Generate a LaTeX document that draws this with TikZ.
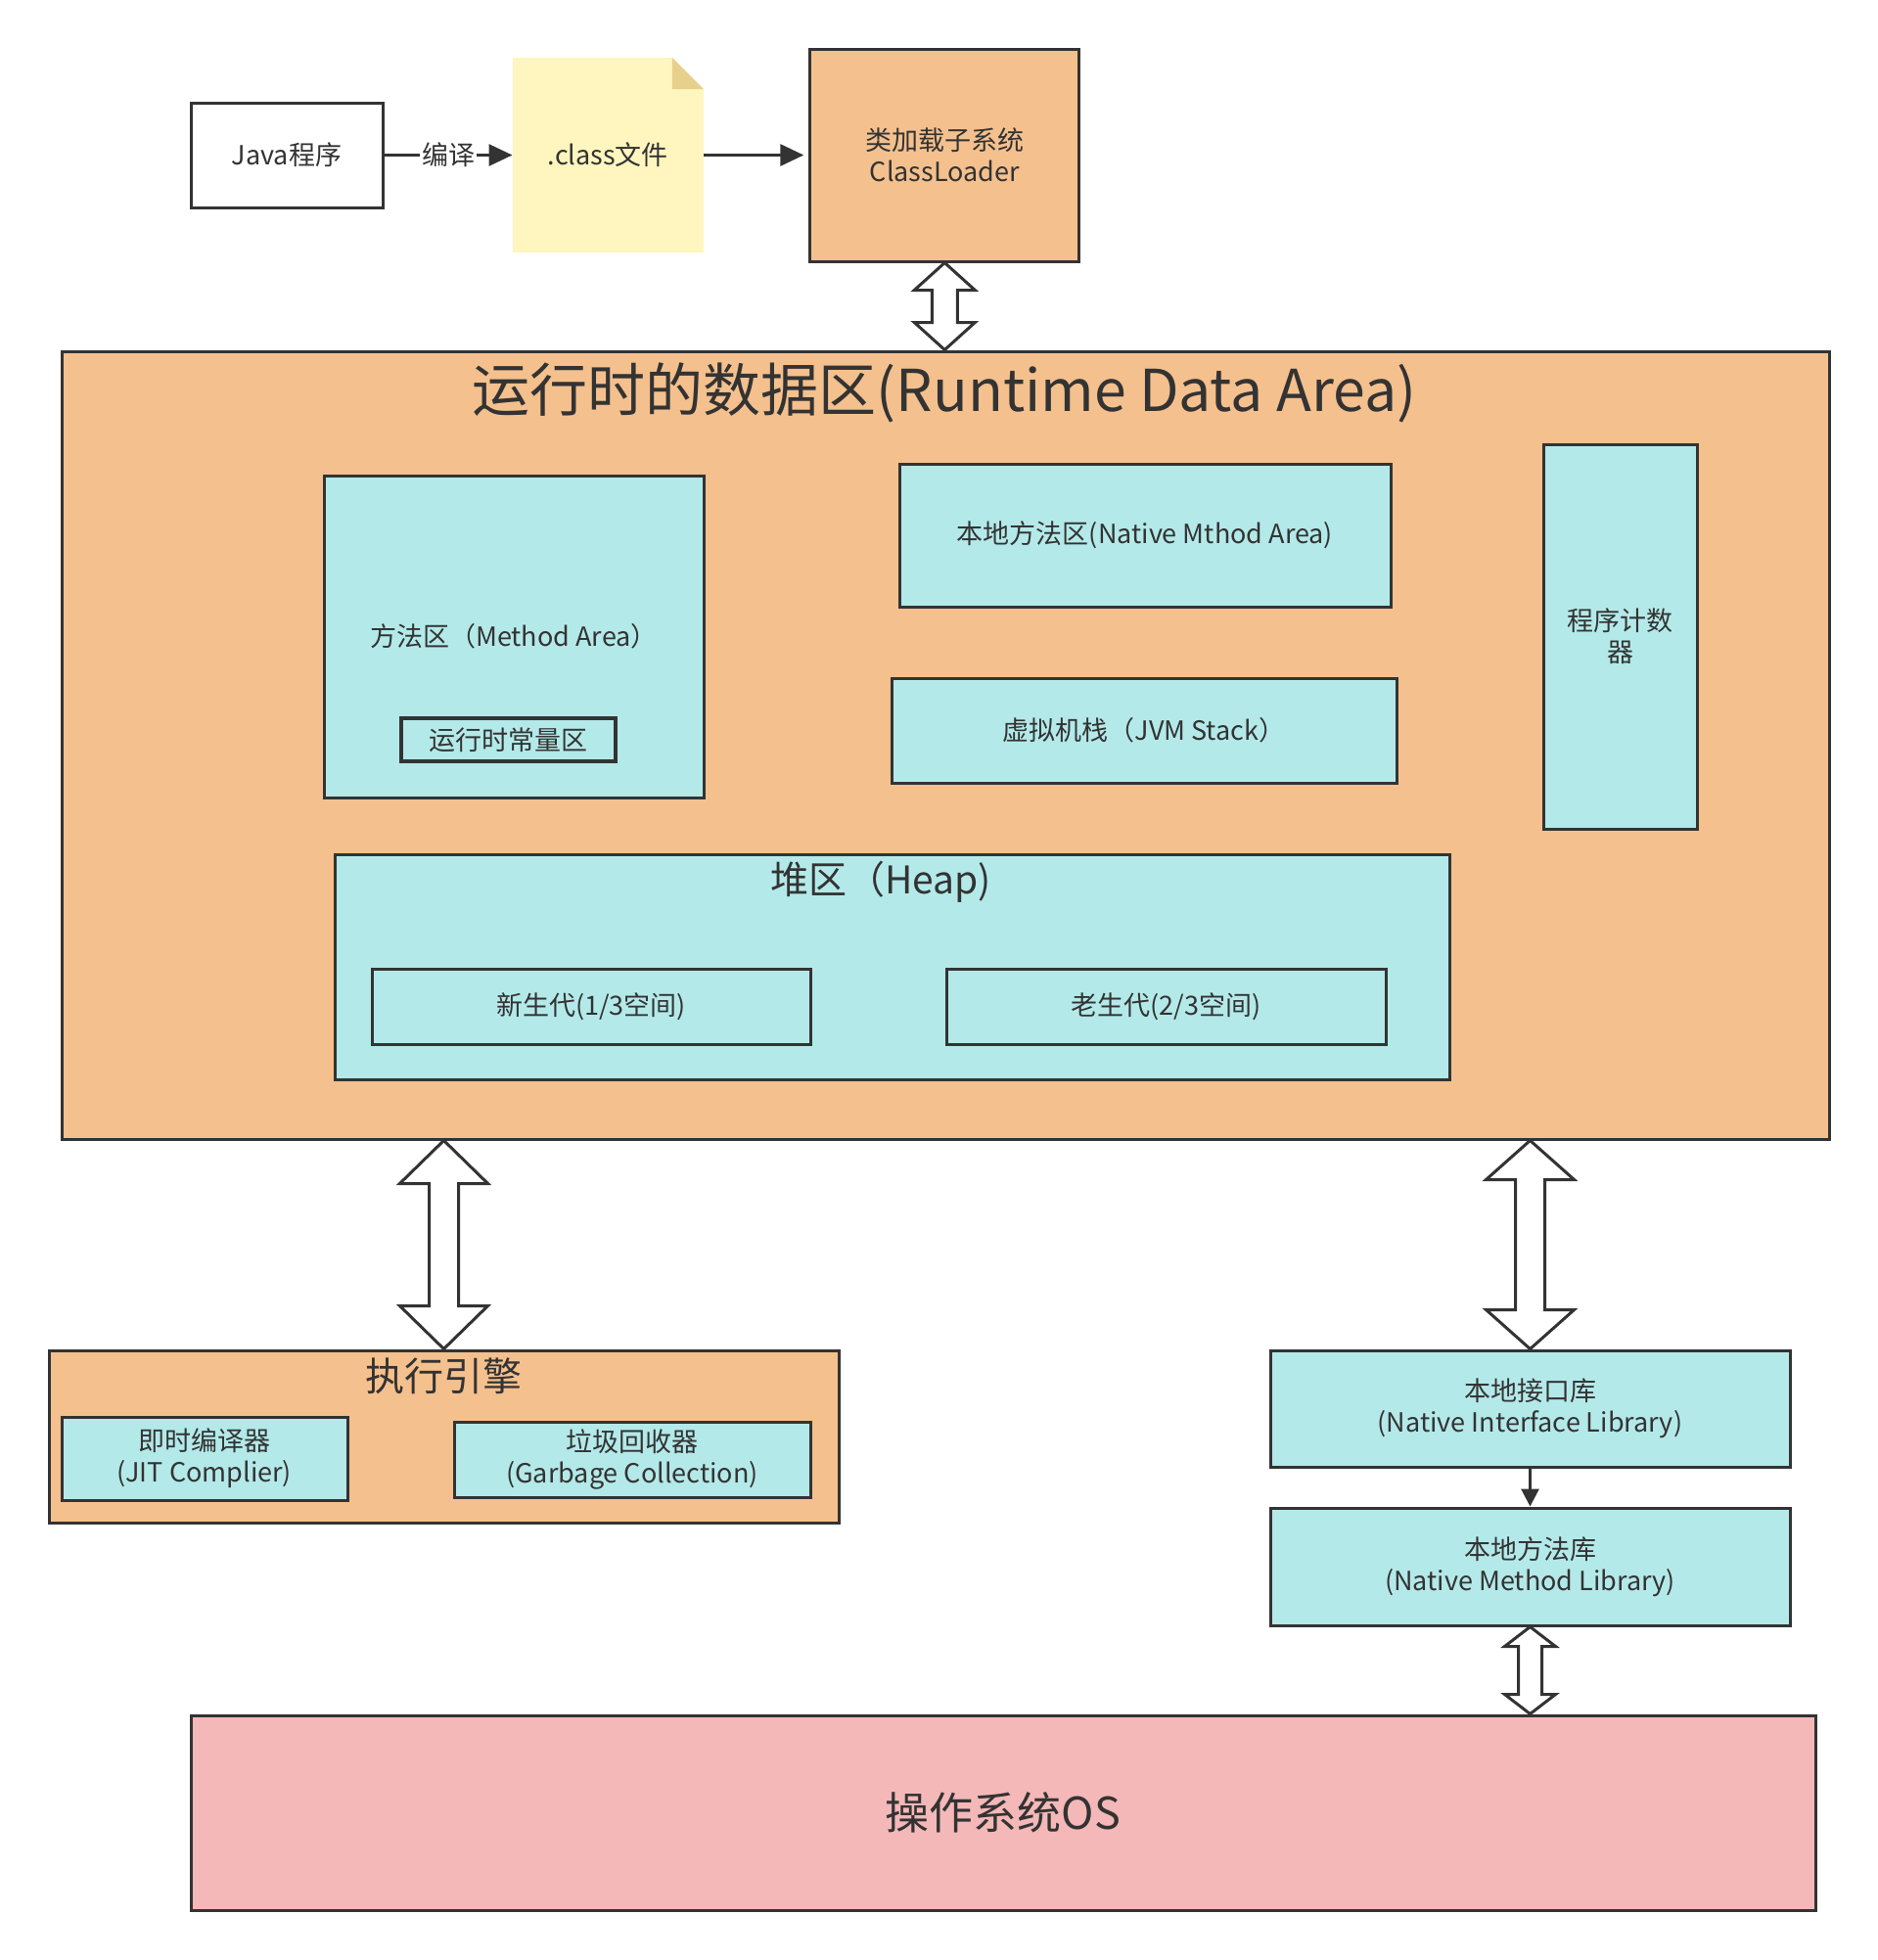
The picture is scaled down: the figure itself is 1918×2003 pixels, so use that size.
\documentclass[tikz,border=0pt]{standalone}
\usepackage{fontspec}
\setmainfont{Noto Sans CJK SC}
\usepackage{tikz}
\usetikzlibrary{shapes,arrows,arrows.meta,positioning,calc}

\definecolor{linegray}{HTML}{333333}
\definecolor{orangefill}{HTML}{F4C08D}
\definecolor{cyanfill}{HTML}{B4E9E9}
\definecolor{pinkfill}{HTML}{F4B8B8}
\definecolor{notefill}{HTML}{FFF5BF}
\definecolor{foldfill}{HTML}{E6D08C}

% hollow two-way block arrow: top point, bottom point, half shaft, half head, head length
\newcommand{\dblblock}[5]{%
  \draw[hollow] let \p1=(#1), \p2=(#2) in
    (\x1,\y1) -- (\x1+#4,\y1-#5) -- (\x1+#3,\y1-#5) -- (\x1+#3,\y2+#5)
    -- (\x1+#4,\y2+#5) -- (\x1,\y2) -- (\x1-#4,\y2+#5) -- (\x1-#3,\y2+#5)
    -- (\x1-#3,\y1-#5) -- (\x1-#4,\y1-#5) -- cycle;}

\begin{document}
\begin{tikzpicture}[
    x=0.5pt, y=-0.5pt,
    font=\fontsize{13.5pt}{16pt}\selectfont, text=linegray,
    box/.style={rectangle, draw=linegray, line width=1.5pt, align=center, inner sep=2pt},
    orangebox/.style={box, fill=orangefill},
    cyanbox/.style={box, fill=cyanfill},
    classfile/.style={rectangle, align=center, minimum width=97.5pt, minimum height=99.5pt,
        path picture={
            \fill[notefill] (path picture bounding box.north west)
                -- ([xshift=-16pt]path picture bounding box.north east)
                -- ([yshift=-16pt]path picture bounding box.north east)
                -- (path picture bounding box.south east)
                -- (path picture bounding box.south west) -- cycle;
            \fill[foldfill] ([xshift=-16pt]path picture bounding box.north east)
                -- ([xshift=-16pt,yshift=-16pt]path picture bounding box.north east)
                -- ([yshift=-16pt]path picture bounding box.north east) -- cycle;
        }},
    arrow/.style={-{Triangle[length=12pt,width=11pt]}, draw=linegray, line width=1.5pt},
    hollow/.style={draw=linegray, fill=white, line width=1.5pt, line join=miter}
]
    \useasboundingbox (0,0) rectangle (1918,2003);

    % loading
    \node[box, fill=white, minimum width=98pt, minimum height=53.5pt] (java) at (293,158.5) {Java程序};
    \node[classfile, right=65.5pt of java] (cls) {.class文件};
    \node[orangebox, minimum width=137.5pt, minimum height=108.5pt, right=53.5pt of cls] (cl) {类加载子系统\\ClassLoader};

    \draw[arrow] (java) -- node[fill=white, inner sep=1pt] (compile) {编译} (cls);
    \draw[arrow, shorten >=2.5pt] (cls) -- (cl);

    % runtime data area
    \node[orangebox, minimum width=903pt, minimum height=402.5pt] (rda) at (966,761.5) {};
    \node[font=\fontsize{29.5pt}{34pt}\selectfont] (rdatitle) at (965,401) {运行时的数据区(Runtime Data Area)};

    \node[cyanbox, minimum width=194pt, minimum height=164.5pt] (ma) at (525,650.5) {方法区（Method Area）};
    \node[cyanbox, line width=2pt, minimum width=109.5pt, minimum height=22pt] (rcp) at (519.5,756) {运行时常量区};
    \node[cyanbox, minimum width=251pt, minimum height=73pt] (nma) at (1170,547) {本地方法区(Native Mthod Area)};
    \node[cyanbox, minimum width=258pt, minimum height=53.5pt] (jvms) at (1169,746.5) {虚拟机栈（JVM Stack）};
    \node[cyanbox, minimum width=78.5pt, minimum height=196.5pt] (pc) at (1655.5,650.5) {程序计数\\器};

    \node[cyanbox, minimum width=569.5pt, minimum height=115pt] (heap) at (911.5,988) {};
    \node[font=\fontsize{19.5pt}{23pt}\selectfont] (heaptitle) at (900,901) {堆区（Heap)};
    \node[cyanbox, minimum width=224pt, minimum height=38.5pt] (young) at (604,1028.5) {新生代(1/3空间)};
    \node[cyanbox, minimum width=224.5pt, minimum height=38.5pt] (old) at (1191.5,1028.5) {老生代(2/3空间)};

    % execution engine
    \node[orangebox, minimum width=403.5pt, minimum height=88pt] (exec) at (453.5,1468) {};
    \node[font=\fontsize{20pt}{24pt}\selectfont] (exectitle) at (453.5,1406) {执行引擎};
    \node[cyanbox, minimum width=146pt, minimum height=42.5pt] (jit) at (209,1490.5) {即时编译器\\(JIT Complier)};
    \node[cyanbox, minimum width=182pt, minimum height=38.5pt] (gc) at (646,1491.5) {垃圾回收器\\(Garbage Collection)};

    % native side
    \node[cyanbox, minimum width=265.5pt, minimum height=59.5pt] (nil) at (1563.5,1439.5) {本地接口库\\(Native Interface Library)};
    \node[cyanbox, minimum width=265.5pt, minimum height=60pt] (nml) at (1563.5,1601) {本地方法库\\(Native Method Library)};
    \draw[-{Triangle[length=9pt,width=9pt]}, draw=linegray, line width=1.5pt] (nil) -- (nml);

    \node[box, fill=pinkfill, minimum width=830pt, minimum height=99.5pt, font=\fontsize{22.5pt}{27pt}\selectfont] (os) at (1025,1852.5) {操作系统OS};

    % two-way block arrows
    \dblblock{cl.south}{rda.north}{6.5pt}{15.5pt}{14pt}
    \dblblock{exec.north |- rda.south}{exec.north}{7.5pt}{22.5pt}{22pt}
    \dblblock{nil.north |- rda.south}{nil.north}{7.5pt}{22.5pt}{20pt}
    \dblblock{nml.south}{nml.south |- os.north}{6pt}{13pt}{10pt}
\end{tikzpicture}
\end{document}
